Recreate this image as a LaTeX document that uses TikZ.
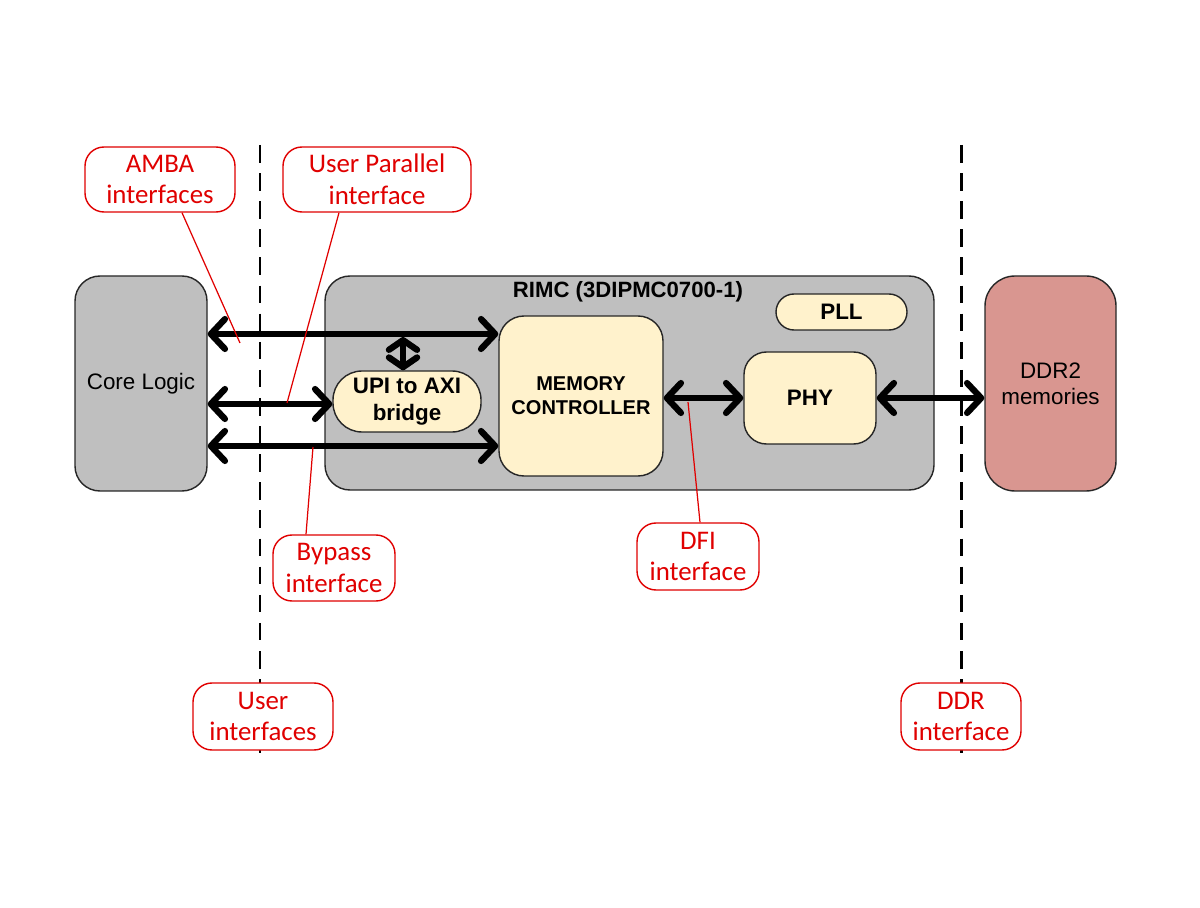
\documentclass[tikz,border=0pt]{standalone}
\usepackage{fontspec}
\setmainfont{Liberation Sans}
\newfontfamily\calib{Carlito}
\usetikzlibrary{arrows.meta,calc}
\definecolor{boxgray}{HTML}{BFBFBF}
\definecolor{cream}{HTML}{FFF2CC}
\definecolor{ddrred}{HTML}{D99690}
\definecolor{callred}{HTML}{E00000}
\begin{document}
\begin{tikzpicture}[x=0.02cm,y=-0.02cm,
  blk/.style 2 args={draw=black!85, line width=0.8pt, inner sep=0pt,
    minimum width=#1*0.02cm, minimum height=#2*0.02cm, align=center},
  graybox/.style={fill=boxgray, rounded corners=0.5cm,
    font=\fontsize{12.75}{15}\selectfont},
  creambox/.style={fill=cream, font=\bfseries\fontsize{12.75}{15}\selectfont},
  callout/.style 2 args={draw=callred, fill=white, text=callred, line width=0.8pt,
    rounded corners=0.38cm, inner sep=0pt, minimum width=#1*0.02cm,
    minimum height=#2*0.02cm, align=center,
    font=\calib\fontsize{15.3}{18}\selectfont},
  bus/.style={line width=3.6pt, line cap=round,
    {Straight Barb[length=8pt,width=17pt,line cap=round,line join=round]}-{Straight Barb[length=8pt,width=17pt,line cap=round,line join=round]}},
  shortbus/.style={line width=3.6pt, line cap=round,
    {Straight Barb[length=5.5pt,width=16pt,line cap=round,line join=round]}-{Straight Barb[length=5.5pt,width=16pt,line cap=round,line join=round]}},
  leader/.style={draw=callred, line width=0.7pt},
  divider/.style={line width=1.7pt, dash pattern=on 10pt off 6pt}
]
\useasboundingbox (0,0) rectangle (1200,908);

% dividers
\coordinate (dA1) at (260,145);
\coordinate (dA2) at (260,760);
\coordinate (dB1) at (961,145);
\coordinate (dB2) at (961,760);
\draw[divider] (dA1) -- (dA2);
\draw[divider] (dB1) -- (dB2);

% blocks
\node[blk={132}{215}, graybox] (core) at (141,383.5) {Core Logic};
\node[blk={609}{214}, graybox] (rimc) at (629.5,383) {};
\node[font=\bfseries\fontsize{12.6}{15}\selectfont] (title) at (628,292) {RIMC (3DIPMC0700-1)};
\node[blk={131}{215}, fill=ddrred, rounded corners=0.6cm,
  font=\fontsize{12.75}{15}\selectfont] (ddr) at (1050.5,383.5) {DDR2\\memories};
\node[blk={164}{160}, creambox, rounded corners=0.5cm,
  font=\bfseries\fontsize{11.4}{13.6}\selectfont] (mc) at (581,396) {MEMORY\\CONTROLLER};
\node[blk={132}{92}, creambox, rounded corners=0.45cm] (phy) at (810,398) {PHY};
\node[blk={131}{36}, creambox, rounded corners=0.36cm] (pll) at (841.5,312) {PLL};
\node[blk={148}{61}, creambox, rounded corners=0.58cm] (upi) at (407,401.5) {UPI to AXI\\bridge};

% buses
\coordinate (a1) at (0,334);
\coordinate (a2) at (0,404);
\coordinate (a3) at (0,446);
\coordinate (vtop) at (403,337);
\draw[bus] (core.east |- a1) -- (mc.west |- a1);
\draw[shortbus] (vtop) -- (upi.north -| vtop);
\draw[bus] (core.east |- a2) -- (upi.west |- a2);
\draw[bus] (core.east |- a3) -- (mc.west |- a3);
\draw[bus] (mc.east |- phy.west) -- (phy.west);
\draw[bus] (phy.east) -- (ddr.west |- phy.east);

% callouts
\node[callout={150}{65}] (amba) at (160,179.5) {AMBA\\interfaces};
\node[callout={188}{65}] (upar) at (377,179.5) {User Parallel\\interface};
\node[callout={122}{66}] (byp) at (334,568) {Bypass\\interface};
\node[callout={122}{67}] (dfi) at (698,556.5) {DFI\\interface};
\node[callout={140}{67}] (uif) at (263,716.5) {User\\interfaces};
\node[callout={120}{67}] (ddrif) at (961,716.5) {DDR\\interface};

% leaders
\coordinate (pA) at (240,343);
\coordinate (pU) at (287,403);
\coordinate (pB) at (313,447);
\coordinate (pD) at (688,402);
\draw[leader] ($(amba.south)+(22,0)$) -- (pA);
\draw[leader] ($(upar.south)+(-38,0)$) -- (pU);
\draw[leader] ($(byp.north)+(-28,0)$) -- (pB);
\draw[leader] ($(dfi.north)+(2,0)$) -- (pD);
\end{tikzpicture}
\end{document}
